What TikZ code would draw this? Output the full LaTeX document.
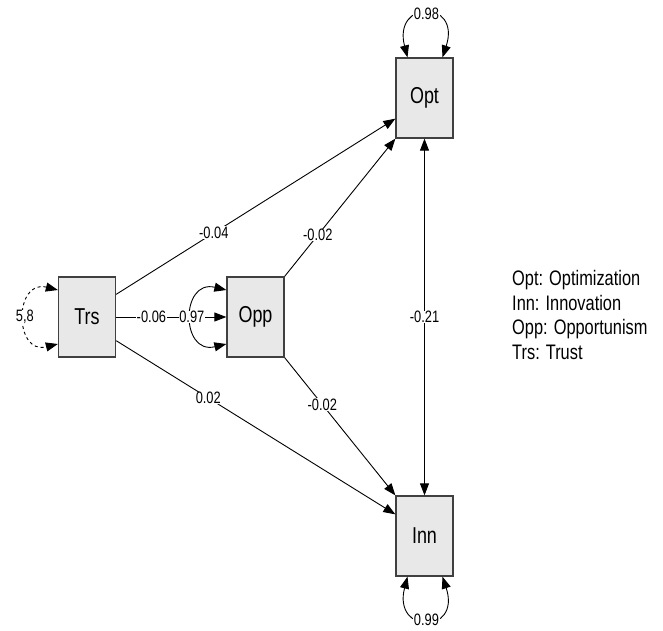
\documentclass[tikz,border=0pt]{standalone}
\usepackage{fontspec}
\setmainfont[FakeStretch=0.78]{Liberation Sans}
\usetikzlibrary{arrows.meta,calc}
\begin{document}
\begin{tikzpicture}[x=1pt,y=-1pt,
  var/.style={draw=black!75, line width=1.3pt, fill=black!9, minimum width=57pt, minimum height=80pt, inner sep=0pt, font=\fontsize{23}{27}\selectfont},
  conn/.style={line width=0.9pt, -{Triangle[length=12pt,width=9pt]}},
  dconn/.style={line width=0.9pt, {Triangle[length=12pt,width=9pt]}-{Triangle[length=12pt,width=9pt]}},
  lbl/.style={fill=white, inner sep=0.6pt, font=\fontsize{16.5}{19}\selectfont},
  legend/.style={align=left, anchor=west, inner sep=0pt, font=\fontsize{21}{24.7}\selectfont}]
\useasboundingbox (0,0) rectangle (663,630);
\node[var] (opt) at (424.5,98) {Opt};
\node[var] (inn) at (424.5,536) {Inn};
\node[var] (trs) at (87,317) {Trs};
\node[var] (opp) at (255.5,317) {Opp};
% paths
\draw[conn] ($(trs.north east)+(0,18)$) -- node[lbl,pos=0.35] {-0.04} ($(opt.south west)+(0,-20)$);
\draw[conn] (opp.north east) -- node[lbl,pos=0.30] {-0.02} (opt.south west);
\draw[conn] ($(trs.south east)+(0,-17)$) -- node[lbl,pos=0.33] {0.02} ($(inn.north west)+(0,19)$);
\draw[conn] (opp.south east) -- node[lbl,pos=0.34] {-0.02} (inn.north west);
\draw[conn] (trs.east) -- node[lbl,pos=0.32] {-0.06} (opp.west);
\draw[dconn] (opt.south) -- node[lbl,pos=0.5] {-0.21} (inn.north);
% variance loops
\draw[dconn] ($(opt.north)+(-17,0)$) .. controls ($(opt.north)+(-32,-58)$) and ($(opt.north)+(37,-58)$) .. node[lbl,pos=0.5] {0.98} ($(opt.north)+(18,0)$);
\draw[dconn] ($(inn.south)+(-17,0)$) .. controls ($(inn.south)+(-32,58)$) and ($(inn.south)+(37,58)$) .. node[lbl,pos=0.5] {0.99} ($(inn.south)+(18,0)$);
\draw[dconn] ($(opp.west)+(0,-27)$) .. controls ($(opp.west)+(-46,-38)$) and ($(opp.west)+(-46,38)$) .. node[lbl,pos=0.5] {0.97} ($(opp.west)+(0,27)$);
\draw[dconn, dashed] ($(trs.west)+(0,-27)$) .. controls ($(trs.west)+(-44,-38)$) and ($(trs.west)+(-44,38)$) .. node[lbl,pos=0.5] {5,8} ($(trs.west)+(0,27)$);
% legend
\node[legend] (leg) at (512,315) {Opt: Optimization\\Inn: Innovation\\Opp: Opportunism\\Trs: Trust};
\end{tikzpicture}
\end{document}
